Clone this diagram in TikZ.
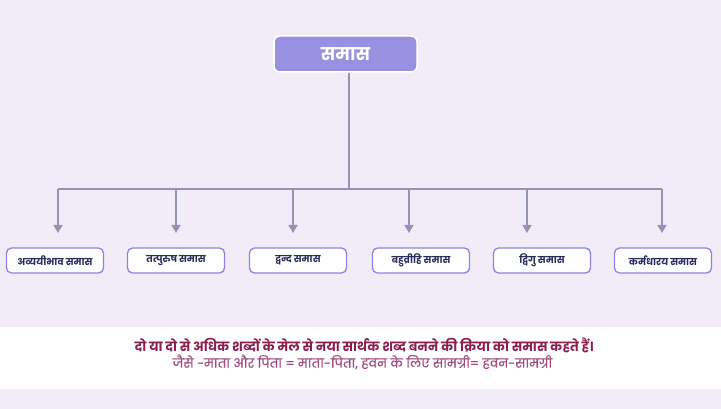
\documentclass[tikz,border=0pt]{standalone}
\usepackage{fontspec}
\setmainfont[Script=Devanagari]{Poppins}
\newfontfamily\semifont[Script=Devanagari,FakeBold=0.6]{Poppins}
\usetikzlibrary{arrows.meta}
\definecolor{bglav}{HTML}{F2ECF8}
\definecolor{topfill}{HTML}{9A90E2}
\definecolor{boxedge}{HTML}{8B82E4}
\definecolor{boxtext}{HTML}{2A2B5C}
\definecolor{linec}{HTML}{9394B4}
\definecolor{maroon}{HTML}{8A1C4E}
\definecolor{magen}{HTML}{A04C80}
\begin{document}
\begin{tikzpicture}[x=1pt,y=-1pt,
  topbox/.style={draw=white,line width=1.5pt,fill=topfill,rounded corners=6pt,minimum width=143pt,minimum height=36pt,inner sep=0pt,text=white,font=\fontsize{17.5}{19}\selectfont\bfseries},
  leafbox/.style={draw=boxedge,line width=1.3pt,fill=white,rounded corners=5pt,minimum width=97pt,minimum height=25pt,inner sep=0pt,text=boxtext,font=\fontsize{9.5}{11}\selectfont\bfseries},
  conn/.style={draw=linec,line width=1.4pt},
  arr/.style={conn,-{Triangle[width=9pt,length=8pt]}}]
\useasboundingbox (0,0) rectangle (721,409);
\fill[bglav] (0,0) rectangle (721,409);
\fill[white] (0,327) rectangle (721,389);
\node[topbox] (root) at (345.5,54) {समास};
\node[leafbox] (b1) at (55,260.5) {अव्ययीभाव समास};
\node[leafbox] (b2) at (176,260.5) {तत्पुरुष समास};
\node[leafbox] (b3) at (298,260.5) {द्वन्द समास};
\node[leafbox] (b4) at (421,260.5) {बहुव्रीहि समास};
\node[leafbox] (b5) at (542,260.5) {द्विगु समास};
\node[leafbox] (b6) at (663,260.5) {कर्मधारय समास};
\coordinate (j) at (349,189);
\coordinate (l) at (58,189);
\coordinate (r) at (662,189);
\path[conn] (root.south -| j) -- (j);
\path[conn] (l) -- (r);
\foreach \x/\n in {58/1,176/2,293/3,409/4,527/5,662/6}{
  \coordinate (s\n) at (\x,189);
  \coordinate (t\n) at (\x,233);
  \path[arr] (s\n) -- (t\n);
}
\node[text=maroon,font=\fontsize{12.7}{14}\selectfont\bfseries] (def) at (364,345) {दो या दो से अधिक शब्दों के मेल से नया सार्थक शब्द बनने की क्रिया को समास कहते हैं।};
\node[text=magen,font=\semifont\fontsize{12.6}{14}\selectfont] (ex) at (362.5,362) {जैसे -माता और पिता = माता-पिता, हवन के लिए सामग्री= हवन-सामग्री};
\end{tikzpicture}
\end{document}
